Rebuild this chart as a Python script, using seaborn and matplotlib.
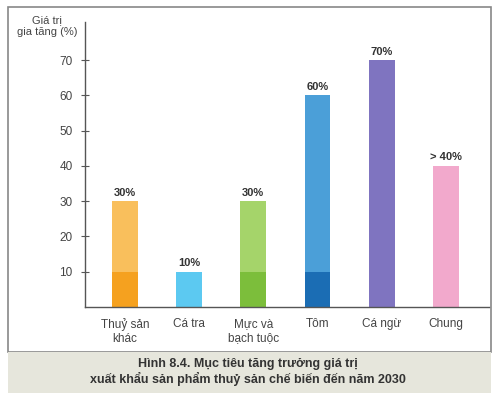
import seaborn as sns
import matplotlib.pyplot as plt
import pandas as pd
from matplotlib.patches import Rectangle

categories = ['Thuỷ sản\nkhác', 'Cá tra', 'Mực và\nbạch tuộc', 'Tôm', 'Cá ngừ', 'Chung']
values = [30, 10, 30, 60, 70, 40]
base = [10, 0, 10, 10, 0, 0]
labels = ['30%', '10%', '30%', '60%', '70%', '> 40%']
light = ['#f9bf5c', '#5cc9f1', '#a5d46a', '#4b9fd8', '#7f74c0', '#f2a9cc']
dark = ['#f5a11f', '#5cc9f1', '#7cbe3b', '#1b6db4', '#7f74c0', '#f2a9cc']

sns.set_style("white")
plt.rcParams['font.family'] = ['Liberation Sans', 'DejaVu Sans']

fig = plt.figure(figsize=(4.96, 4), dpi=100)
fig.patches.append(Rectangle((8/496, 1-352/400), 483/496, 345/400, transform=fig.transFigure,
                             facecolor='white', edgecolor='#888888', lw=1.2, zorder=-10))
fig.patches.append(Rectangle((8/496, 1-393/400), 483/496, 41/400, transform=fig.transFigure,
                             facecolor='#e6e6dc', edgecolor='none', zorder=-10))

ax = fig.add_axes([85/496, 1-307/400, 404/496, 285/400])
ax.patch.set_alpha(0)
df = pd.DataFrame({'cat': categories, 'val': values, 'base': base})
sns.barplot(data=df, x='cat', y='val', hue='cat', palette=light, width=0.4,
            legend=False, ax=ax, saturation=1, linewidth=0)
sns.barplot(data=df, x='cat', y='base', hue='cat', palette=dark, width=0.4,
            legend=False, ax=ax, saturation=1, linewidth=0)
for i, (v, lab) in enumerate(zip(values, labels)):
    ax.text(i, v + 1, lab, ha='center', va='bottom', fontsize=8, fontweight='bold', color='#333333')

ax.set_xlim(-0.62, 5.67)
ax.set_ylim(0, 80.8)
ax.set_yticks([10, 20, 30, 40, 50, 60, 70])
ax.tick_params(axis='y', left=True, length=6, width=0.8, direction='inout', labelsize=8.5,
               labelcolor='#444444', color='#555555', pad=6)
ax.tick_params(axis='x', length=0, labelsize=8.5, labelcolor='#444444', pad=8)
for s in ['top', 'right']:
    ax.spines[s].set_visible(False)
for s in ['left', 'bottom']:
    ax.spines[s].set_color('#555555')
    ax.spines[s].set_linewidth(1)
ax.set_xlabel('')
ax.set_ylabel('')
fig.text(47/496, 1-26/400, 'Giá trị\ngia tăng (%)', ha='center', va='center', fontsize=8,
         color='#444444', linespacing=1.3)

fig.text(0.5, 1-372/400, 'Hình 8.4. Mục tiêu tăng trưởng giá trị\nxuất khẩu sản phẩm thuỷ sản chế biến đến năm 2030',
         ha='center', va='center', fontsize=9, fontweight='bold', color='#333333')

plt.savefig('out.png', dpi=100)
